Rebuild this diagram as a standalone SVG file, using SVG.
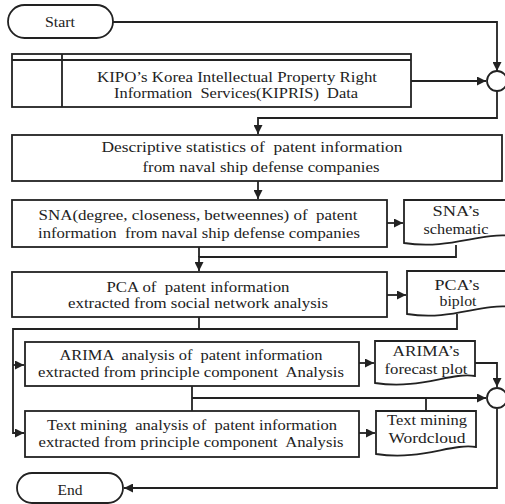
<svg xmlns="http://www.w3.org/2000/svg" width="505" height="504" viewBox="0 0 505 504">
<defs>
<style>
.box{fill:#fff;stroke:#222;stroke-width:1.8}
.ln{fill:none;stroke:#222;stroke-width:1.8}
.arr{fill:none;stroke:#222;stroke-width:1.8;marker-end:url(#ah)}
text{font-family:"Liberation Serif","Times New Roman",serif;font-size:15.5px;fill:#222;text-anchor:middle}
</style>
<marker id="ah" viewBox="0 0 10 10" refX="10" refY="5" markerWidth="5" markerHeight="5" markerUnits="strokeWidth" orient="auto">
<path d="M0,0 L10,5 L0,10 z" fill="#222"/>
</marker>
</defs>
<rect width="505" height="504" fill="#fff"/>
<g id="connectors">
<path class="arr" d="M113,22 H497 V71"/>
<path class="arr" d="M411,81 H486"/>
<path class="arr" d="M497,91 V118 H258 V134"/>
<path class="arr" d="M258,181 V199"/>
<path class="arr" d="M387,223 H403"/>
<path class="ln" d="M199,247 V257"/>
<path class="arr" d="M456,245 V257 H199 V271"/>
<path class="arr" d="M387,295 H406"/>
<path class="ln" d="M199,317 V329"/>
<path class="arr" d="M457,314 V329 H13 V433 H24"/>
<path class="arr" d="M13,365 H24"/>
<path class="arr" d="M359,363 H374"/>
<path class="arr" d="M475,363 H497 V387"/>
<path class="ln" d="M192,386 V411"/>
<path class="arr" d="M192,398 H486"/>
<path class="ln" d="M426,411 V398"/>
<path class="arr" d="M359,433 H375"/>
<path class="arr" d="M497,409 V488 H124"/>
</g>
<g id="start">
<rect class="box" x="8" y="5" width="105" height="33" rx="16.5"/>
<text x="60" y="27" textLength="30" lengthAdjust="spacingAndGlyphs">Start</text>
</g>
<g id="kipris">
<rect class="box" x="12" y="54" width="399" height="53"/>
<path class="ln" d="M12,60 H411 M62,54 V107"/>
<text x="237" y="82" textLength="280" lengthAdjust="spacingAndGlyphs">KIPO’s Korea Intellectual Property Right</text>
<text x="236" y="98" xml:space="preserve" textLength="244" lengthAdjust="spacingAndGlyphs">Information  Services(KIPRIS)  Data</text>
</g>
<g id="merge1">
<circle class="box" cx="497" cy="81" r="10"/>
</g>
<g id="descriptive">
<rect class="box" x="12" y="135" width="490" height="46"/>
<text x="252" y="152" xml:space="preserve" textLength="301" lengthAdjust="spacingAndGlyphs">Descriptive statistics of  patent information</text>
<text x="261" y="172" textLength="237" lengthAdjust="spacingAndGlyphs">from naval ship defense companies</text>
</g>
<g id="sna">
<rect class="box" x="12" y="200" width="375" height="47"/>
<text x="198" y="220" xml:space="preserve" textLength="319" lengthAdjust="spacingAndGlyphs">SNA(degree, closeness, betweennes) of  patent</text>
<text x="199" y="238" xml:space="preserve" textLength="322" lengthAdjust="spacingAndGlyphs">information  from naval ship defense companies</text>
</g>
<g id="sna-doc">
<path class="box" d="M404,200 H512 V236 C480,232 450,250 404,243 Z"/>
<text x="456" y="216" textLength="47" lengthAdjust="spacingAndGlyphs">SNA’s</text>
<text x="456" y="234" textLength="65" lengthAdjust="spacingAndGlyphs">schematic</text>
</g>
<g id="pca">
<rect class="box" x="12" y="272" width="375" height="45"/>
<text x="198" y="292" xml:space="preserve" textLength="183" lengthAdjust="spacingAndGlyphs">PCA of  patent information</text>
<text x="198" y="308" textLength="260" lengthAdjust="spacingAndGlyphs">extracted from social network analysis</text>
</g>
<g id="pca-doc">
<path class="box" d="M407,271 H512 V307 C480,303 452,321 407,314 Z"/>
<text x="457" y="290" textLength="45" lengthAdjust="spacingAndGlyphs">PCA’s</text>
<text x="458" y="306" textLength="37" lengthAdjust="spacingAndGlyphs">biplot</text>
</g>
<g id="arima">
<rect class="box" x="25" y="342" width="334" height="44"/>
<text x="191" y="360" xml:space="preserve" textLength="263" lengthAdjust="spacingAndGlyphs">ARIMA  analysis of  patent information</text>
<text x="191" y="377" xml:space="preserve" textLength="306" lengthAdjust="spacingAndGlyphs">extracted from principle component  Analysis</text>
</g>
<g id="arima-doc">
<path class="box" d="M375,341 H475 V376 C450,372 420,390 375,383 Z"/>
<text x="426" y="356" textLength="67" lengthAdjust="spacingAndGlyphs">ARIMA’s</text>
<text x="426" y="374" textLength="83" lengthAdjust="spacingAndGlyphs">forecast plot</text>
</g>
<g id="merge2">
<circle class="box" cx="497" cy="398" r="10"/>
</g>
<g id="textmining">
<rect class="box" x="25" y="411" width="334" height="46"/>
<text x="192" y="430" xml:space="preserve" textLength="290" lengthAdjust="spacingAndGlyphs">Text mining  analysis of  patent information</text>
<text x="191" y="447" xml:space="preserve" textLength="305" lengthAdjust="spacingAndGlyphs">extracted from principle component  Analysis</text>
</g>
<g id="wordcloud-doc">
<path class="box" d="M376,411 H476 V447 C451,443 421,461 376,454 Z"/>
<text x="427" y="425" textLength="80" lengthAdjust="spacingAndGlyphs">Text mining</text>
<text x="427" y="443" textLength="77" lengthAdjust="spacingAndGlyphs">Wordcloud</text>
</g>
<g id="end">
<rect class="box" x="17" y="473" width="106" height="30" rx="15"/>
<text x="70" y="495" textLength="25" lengthAdjust="spacingAndGlyphs">End</text>
</g>
</svg>
